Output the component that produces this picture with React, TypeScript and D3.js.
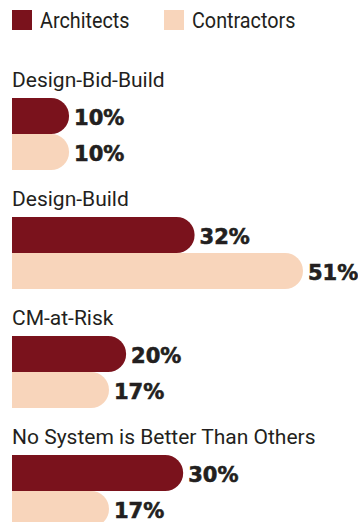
import React from "react";
import * as d3 from "d3";

const categories = [
  "Design-Bid-Build",
  "Design-Build",
  "CM-at-Risk",
  "No System is Better Than Others",
];
const seriesNames = ["Architects", "Contractors"];
const architects = [10, 32, 20, 30];
const contractors = [10, 51, 17, 17];

const W = 358;
const H = 522;
const colors = ["#7a121c", "#f8d5bb"];
const barH = 36;

// right-rounded bar path
function barPath(x0: number, x1: number, y: number, h: number) {
  const r = h / 2;
  const p = d3.path();
  p.moveTo(x0, y);
  p.lineTo(x1 - r, y);
  p.arc(x1 - r, y + r, r, -Math.PI / 2, Math.PI / 2);
  p.lineTo(x0, y + h);
  p.closePath();
  return p.toString();
}

export default function App() {
  const x = d3.scaleLinear().domain([0, 51]).range([12, 303]);
  const groupY = d3
    .scaleBand<string>()
    .domain(categories)
    .range([98, 98 + 119 * categories.length])
    .paddingInner(0)
    .paddingOuter(0);
  const series = [architects, contractors];
  const labelFont = "Roboto, sans-serif";

  return (
    <svg
      width={W}
      height={H}
      style={{ position: "absolute", left: 0, top: 0, background: "#fff" }}
    >
      {/* legend */}
      {seriesNames.map((name, i) => {
        const lx = i === 0 ? 12 : 164;
        return (
          <g key={name}>
            <rect x={lx} y={10} width={20} height={20} fill={colors[i]} />
            <text
              transform={`translate(${lx + 28},28) scale(0.9,1)`}
              fontFamily={labelFont}
              fontSize={22}
              fill="#231f20"
            >
              {name}
            </text>
          </g>
        );
      })}

      {categories.map((cat, ci) => {
        const top = groupY(cat) as number;
        return (
          <g key={cat}>
            <text
              transform={`translate(12,${top - 11}) scale(1.0,1)`}
              fontFamily={labelFont}
              fontSize={21}
              fill="#231f20"
            >
              {cat}
            </text>
            {series.map((vals, si) => {
              const y = top + si * barH;
              const v = vals[ci];
              return (
                <g key={si}>
                  <path d={barPath(x(0), x(v), y, barH)} fill={colors[si]} />
                  <text
                    x={x(v) + 5}
                    y={y + barH / 2 + 8.5}
                    fontFamily="'DejaVu Sans', sans-serif"
                    fontWeight="bold"
                    fontSize={21}
                    fill="#231f20"
                    stroke="#231f20"
                    strokeWidth={0.6}
                  >
                    {v}%
                  </text>
                </g>
              );
            })}
          </g>
        );
      })}
    </svg>
  );
}
